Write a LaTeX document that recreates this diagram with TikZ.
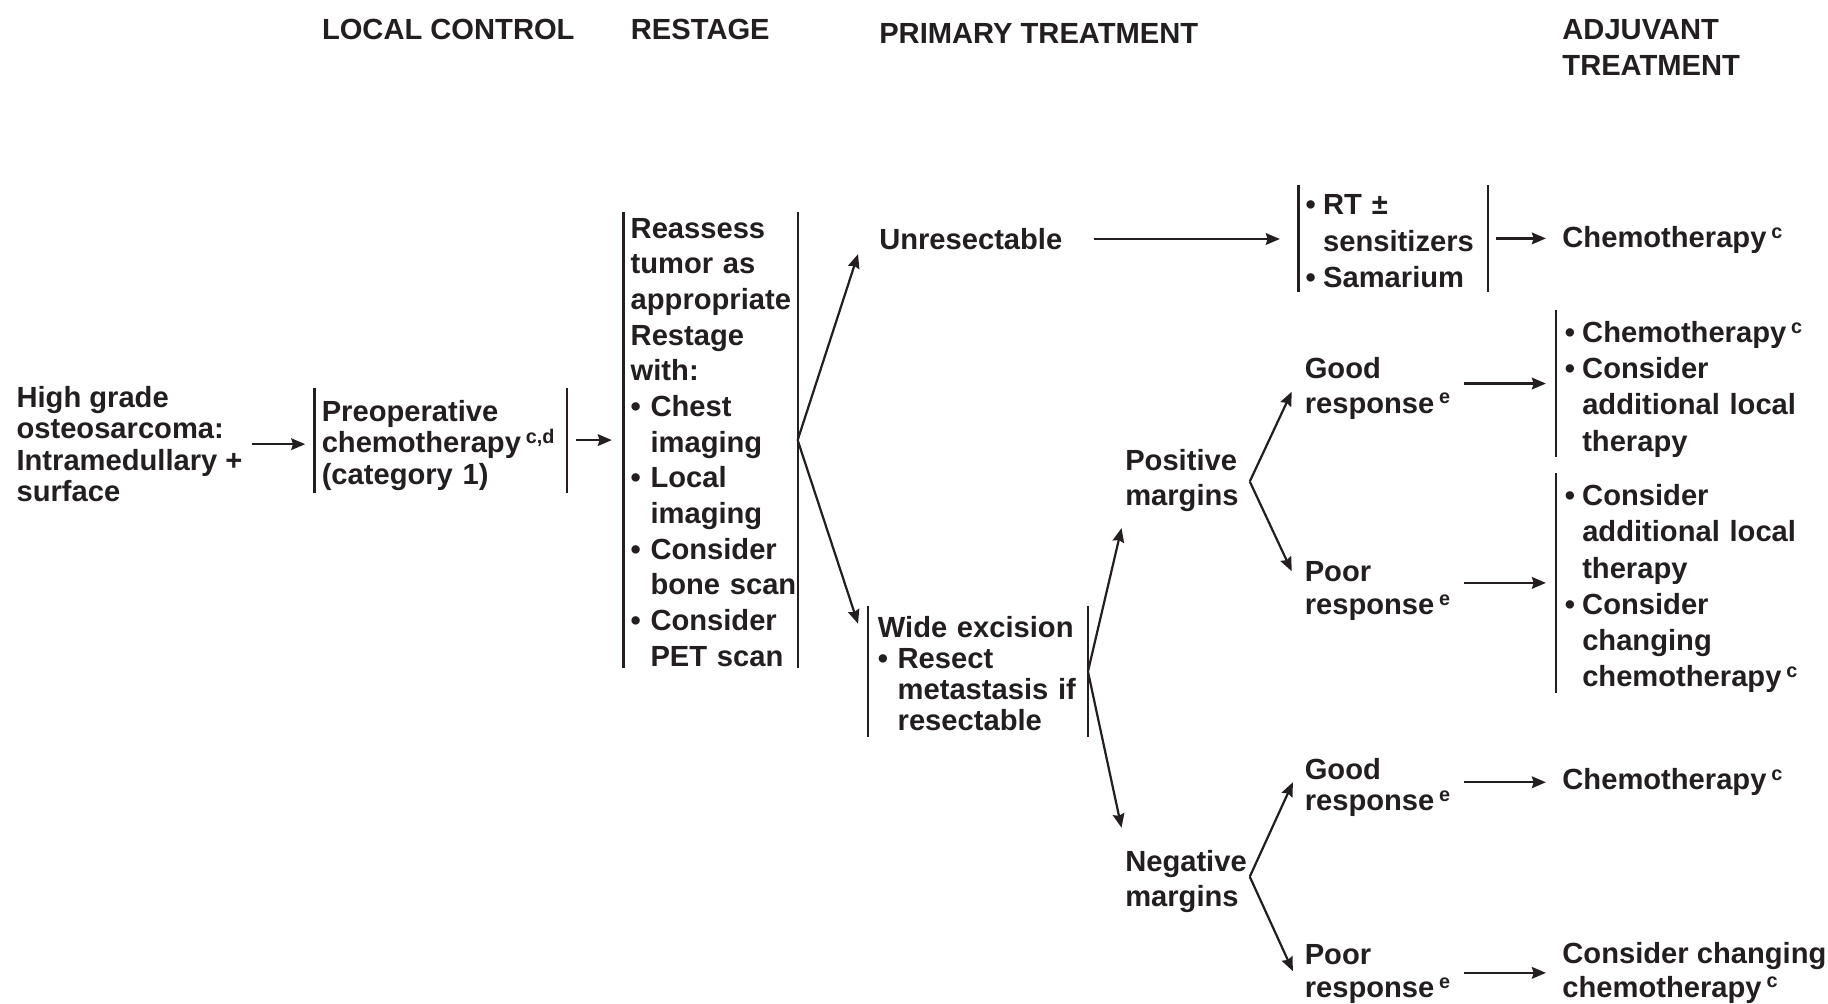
\documentclass[tikz,border=0pt]{standalone}
\usepackage{fontspec}
\setmainfont{Liberation Sans}
\usetikzlibrary{arrows.meta}
\definecolor{ink}{HTML}{231F20}
\newcommand\fsz[1]{\bfseries\fontsize{25}{#1}\selectfont}
\newcommand\bulitem[1][15pt]{\makebox[#1][l]{\textbullet}}
\newcommand\contind[1][15pt]{\hspace*{#1}}
\newcommand\supc[1]{\,\raisebox{8pt}{\fontsize{17}{17}\selectfont #1}}
\newcommand\topstrut[1]{\rule{0pt}{#1}}
\begin{document}
\begin{tikzpicture}[x=1pt,y=-1pt,
  lbl/.style={anchor=west, inner sep=0pt, align=left, text=ink, font=\fsz{30}},
  brk/.style={inner xsep=6pt, inner ysep=0pt, align=left, text=ink},
  vbar/.style={draw=ink, line width=1.8pt},
  arr/.style={draw=ink, line width=1.9pt, -{Stealth[length=12pt,width=10pt,inset=1.5pt]}}]
\path[use as bounding box, fill=white] (0,0) rectangle (1568,861);

% headers
\node[lbl] (hlc) at (276,25) {LOCAL CONTROL};
\node[lbl] (hrs) at (541,25) {RESTAGE};
\node[lbl] (hpt) at (754,29) {PRIMARY TREATMENT};
\node[lbl, font=\fsz{31}] (hadj) at (1340,40.5) {ADJUVANT\\TREATMENT};

% nodes
\node[lbl, font=\fsz{27}] (src) at (14,381) {High grade\\osteosarcoma:\\Intramedullary +\\surface};

\node[brk, font=\fsz{27}, text width=204pt, minimum height=90pt] (preop) at (378,378)
  {\topstrut{26pt}Preoperative\\chemotherapy\supc{c,d}\\(category~1)};

\node[brk, font=\fsz{30.6}, text width=137pt, minimum height=391pt] (rest) at (609.5,377.5)
  {\topstrut{21pt}Reassess\\tumor~as\\appropriate\\Restage\\with:\\\bulitem[17pt]Chest\\\contind[17pt]imaging\\\bulitem[17pt]Local\\\contind[17pt]imaging\\\bulitem[17pt]Consider\\\contind[17pt]bone~scan\\\bulitem[17pt]Consider\\\contind[17pt]PET~scan};

\node[lbl] (unres) at (754,205) {Unresectable};

\node[brk, font=\fsz{31.5}, text width=150pt, minimum height=91pt] (rt) at (1195,204.5)
  {\topstrut{22pt}\bulitem RT~±\\\contind sensitizers\\\bulitem Samarium};

\node[lbl] (chemo1) at (1340,206) {Chemotherapy\supc{c}};

\node[brk, inner xsep=8pt, font=\fsz{26.7}, text width=172pt, minimum height=112pt] (wide) at (839,576)
  {\topstrut{22pt}Wide~excision\\\bulitem[17pt]Resect\\\contind[17pt]metastasis~if\\\contind[17pt]resectable};

\node[lbl] (pos) at (965,412) {Positive\\margins};
\node[lbl] (neg) at (965,756) {Negative\\margins};

\node[lbl] (pg) at (1119,333) {Good\\response\supc{e}};
\node[lbl, font=\fsz{28}] (pp) at (1119,507) {Poor\\response\supc{e}};
\node[lbl, font=\fsz{27}] (ng) at (1119,675.5) {Good\\response\supc{e}};
\node[lbl, font=\fsz{29}] (np) at (1119,835.5) {Poor\\response\supc{e}};

\node[brk, anchor=west, inner xsep=7pt, font=\fsz{31}, text width=215pt, minimum height=118pt] (pgbox) at (1335,329)
  {\topstrut{28pt}\bulitem Chemotherapy\supc{c}\\\bulitem Consider\\\contind additional~local\\\contind therapy};
\node[brk, anchor=west, inner xsep=7pt, font=\fsz{31}, text width=215pt, minimum height=174pt] (ppbox) at (1335,500)
  {\topstrut{28pt}\bulitem Consider\\\contind additional~local\\\contind therapy\\\bulitem Consider\\\contind changing\\\contind chemotherapy\supc{c}};

\node[lbl] (nc) at (1340,671) {Chemotherapy\supc{c}};
\node[lbl, font=\fsz{29}] (npc) at (1340,834.5) {Consider changing\\chemotherapy\supc{c}};

% bars
\draw[vbar] (preop.north west) -- (preop.south west) (preop.north east) -- (preop.south east);
\draw[vbar] (rest.north west) -- (rest.south west) (rest.north east) -- (rest.south east);
\draw[vbar] (rt.north west) -- (rt.south west) (rt.north east) -- (rt.south east);
\draw[vbar] (wide.north west) -- (wide.south west) (wide.north east) -- (wide.south east);
\draw[vbar] (pgbox.north west) -- (pgbox.south west);
\draw[vbar] (ppbox.north west) -- (ppbox.south west);

% connectors
\coordinate (unresIn) at (736,218);
\coordinate (wideIn) at (736,535);
\coordinate (posIn) at (962,453);
\coordinate (negIn) at (962,710);
\coordinate (pbr) at (1072,413);
\coordinate (pgIn) at (1108,336);
\coordinate (ppIn) at (1108,490);
\coordinate (nbr) at (1072,752);
\coordinate (ngIn) at (1109,671);
\coordinate (npIn) at (1109,833);

\draw[arr, shorten <=8pt, shorten >=8pt] (src.east) -- (src.east -| preop.west);
\draw[arr, shorten <=8pt, shorten >=10pt] (preop.east |- rest.west) -- (rest.west);
\draw[arr] (rest.east) -- (unresIn);
\draw[arr] (rest.east) -- (wideIn);
\draw[arr, shorten <=27pt, shorten >=16pt] (unres.east) -- (unres.east -| rt.west);
\draw[arr, shorten <=7pt, shorten >=14pt] (rt.east) -- (rt.east -| chemo1.west);
\draw[arr] (wide.east) -- (posIn);
\draw[arr] (wide.east) -- (negIn);
\draw[arr] (pbr) -- (pgIn);
\draw[arr] (pbr) -- (ppIn);
\draw[arr] (nbr) -- (ngIn);
\draw[arr] (nbr) -- (npIn);
\draw[arr, shorten <=12pt, shorten >=9pt] (pg.east |- pgbox.west) -- (pgbox.west);
\draw[arr, shorten <=12pt, shorten >=9pt] (pp.east |- ppbox.west) -- (ppbox.west);
\draw[arr, shorten <=12pt, shorten >=14pt] (ng.east |- nc.west) -- (nc.west);
\draw[arr, shorten <=12pt, shorten >=14pt] (np.east |- npc.west) -- (npc.west);
\end{tikzpicture}
\end{document}
